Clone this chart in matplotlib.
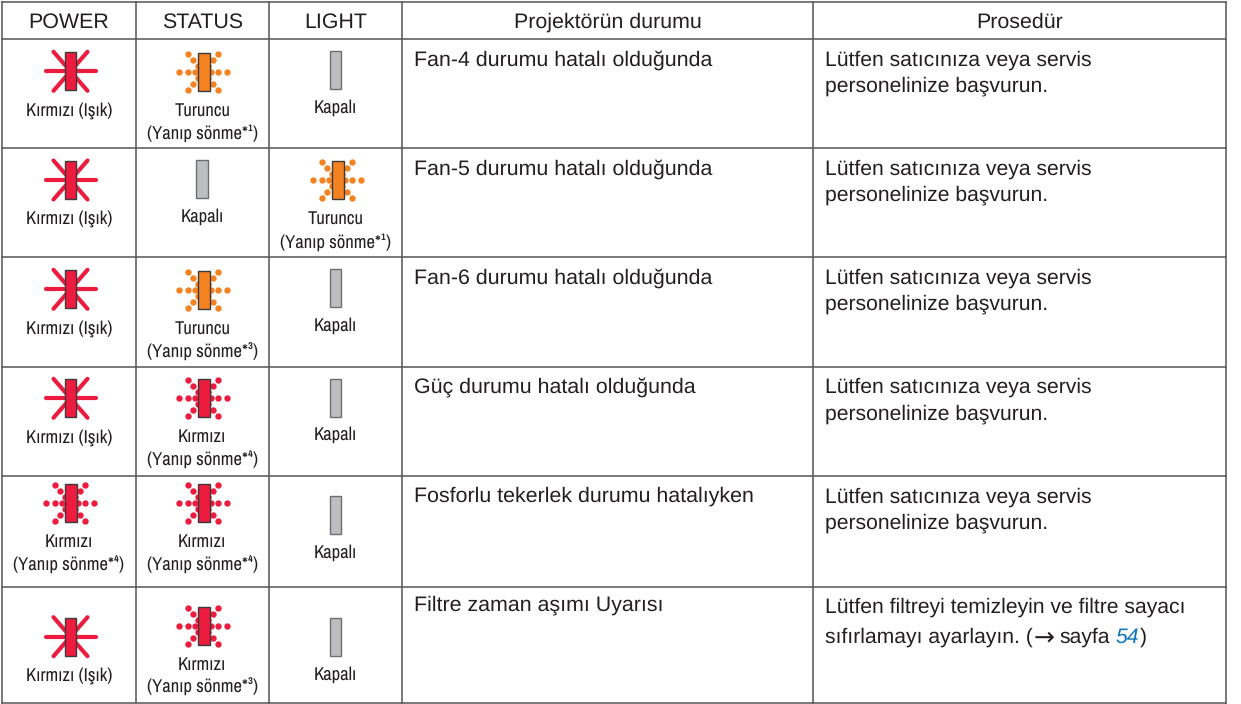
import matplotlib
matplotlib.use("Agg")
import matplotlib.pyplot as plt
from matplotlib.patches import Rectangle

plt.rcParams['font.family'] = ['Liberation Sans', 'DejaVu Sans']
plt.rcParams['text.hinting'] = 'no_hinting'
W, H = 1241, 704

COL_EDGES = [2.3, 135.7, 268.7, 402.3, 813, 1226]
ROW_EDGES = [2, 39, 148.3, 257.3, 366.7, 475.7, 587.3, 702.7]
HEADERS = ["POWER", "STATUS", "LIGHT", "Projektörün durumu", "Prosedür"]
POWER = [("solid", "red", "Kırmızı (Işık)"), ("solid", "red", "Kırmızı (Işık)"), ("solid", "red", "Kırmızı (Işık)"),
         ("solid", "red", "Kırmızı (Işık)"), ("blink", "red", "Kırmızı\n(Yanıp sönme*⁴)"), ("solid", "red", "Kırmızı (Işık)")]
OFF = ("off", "gray", "Kapalı")
STATUS = [("blink", "orange", "Turuncu\n(Yanıp sönme*¹)"), OFF, ("blink", "orange", "Turuncu\n(Yanıp sönme*³)"),
          ("blink", "red", "Kırmızı\n(Yanıp sönme*⁴)"), ("blink", "red", "Kırmızı\n(Yanıp sönme*⁴)"), ("blink", "red", "Kırmızı\n(Yanıp sönme*³)")]
LIGHT = [OFF, ("blink", "orange", "Turuncu\n(Yanıp sönme*¹)"), OFF, OFF, OFF, OFF]
CONDITION = ["Fan-4 durumu hatalı olduğunda", "Fan-5 durumu hatalı olduğunda", "Fan-6 durumu hatalı olduğunda",
             "Güç durumu hatalı olduğunda", "Fosforlu tekerlek durumu hatalıyken", "Filtre zaman aşımı Uyarısı"]
SERVICE = "Lütfen satıcınıza veya servis\npersonelinize başvurun."
PROCEDURE = [SERVICE] * 5 + ["Lütfen filtreyi temizleyin ve filtre sayacı\nsıfırlamayı ayarlayın. ("]
REF_ARROW = "→"
REF_WORD = "sayfa"
PAGE_REF = "54"
# vertical anchor of the lamp in each row
STAR_Y = [71.3, 180, 289.3, 398.3, 503, 636.7]
BLINK_Y = [71.5, 180, 290, 398, 503, 625.5]
OFF_Y = [70, 179.3, 288, 397.5, 515, 637]
COND_BASE = [66, 175, 284, 393, 502, 611]
PROC_BASE = [65.5, 174.5, 283.5, 393, 502.5, 613]
PROC_STEP = [26.5, 26.5, 26.5, 26.5, 26.5, 30]
COLORS = {"red": "#ED1C3F", "orange": "#F58220", "gray": "#BCBEC0"}
EDGE = "#3A3A3A"
TEXT = "#231F20"
LINE = "#555555"
BLUE = "#0F75BC"
BODY = 15.4
PROC_SIZE = 15.2
NARROW = ["Archivo Narrow", "Liberation Sans", "DejaVu Sans"]

fig = plt.figure(figsize=(W / 100, H / 100), dpi=100)
ax = fig.add_axes([0, 0, 1, 1])
ax.set_xlim(0, W); ax.set_ylim(H, 0); ax.axis("off")

for x in COL_EDGES:
    ax.plot([x, x], [ROW_EDGES[0], ROW_EDGES[-1]], color=LINE, lw=1.1, solid_capstyle="projecting")
for y in ROW_EDGES:
    ax.plot([COL_EDGES[0], COL_EDGES[-1]], [y, y], color=LINE, lw=1.1, solid_capstyle="projecting")

for i, h in enumerate(HEADERS):
    ax.text((COL_EDGES[i] + COL_EDGES[i + 1]) / 2, 27.5, h,
            ha="center", va="baseline", fontsize=BODY, color=TEXT)

STAR_RAYS = [(25, 0), (17, 19.5), (-17, 19.5)]
H_DOTS = [8, 15, 24]
D_DOTS = [(5, 6), (10, 12), (15, 18)]

def lamp(cx, cy, kind, color):
    c = COLORS[color]
    if kind == "solid":
        for dx, dy in STAR_RAYS:
            ax.plot([cx - dx, cx + dx], [cy - dy, cy + dy], color=c, lw=3.0, solid_capstyle="round", zorder=2)
    elif kind == "blink":
        xs, ys = [], []
        for d in H_DOTS:
            xs += [cx - 1.2 - d, cx - 1.2 + d]; ys += [cy, cy]
        for dx, dy in D_DOTS:
            for sx in (-1, 1):
                for sy in (-1, 1):
                    xs.append(cx - 1.2 + sx * dx); ys.append(cy + sy * dy)
        ax.scatter(xs, ys, s=21, color=c, lw=0, zorder=2)
    ax.add_patch(Rectangle((cx - 5.9, cy - 19), 11.8, 38, facecolor=c,
                           edgecolor=EDGE if kind != "off" else "#6D6E71", lw=1.0, zorder=3))

def label(cx, y0, text):
    for j, t in enumerate(text.split("\n")):
        ax.text(cx, y0 + j * 22.5, t, ha="center", va="center_baseline", fontsize=13.4, color=TEXT, family=NARROW)

for r in range(6):
    for c, col in enumerate((POWER, STATUS, LIGHT)):
        kind, color, txt = col[r]
        cx = (COL_EDGES[c] + COL_EDGES[c + 1]) / 2
        if kind == "solid":
            lamp(cx + 1.5, STAR_Y[r], kind, color); label(cx, STAR_Y[r] + 38, txt)
        elif kind == "blink":
            lamp(cx + 2.2, BLINK_Y[r], kind, color); label(cx, BLINK_Y[r] + 37.5, txt)
        else:
            lamp(cx, OFF_Y[r], kind, color); label(cx, OFF_Y[r] + 36, txt)
    ax.text(414.3, COND_BASE[r], CONDITION[r], ha="left", va="baseline", fontsize=BODY, color=TEXT)
    for j, t in enumerate(PROCEDURE[r].split("\n")):
        y = PROC_BASE[r] + j * PROC_STEP[r]
        tx = ax.text(825, y, t, ha="left", va="baseline", fontsize=PROC_SIZE, color=TEXT)
        if r == 5 and j == 1:
            fig.canvas.draw()
            x = tx.get_window_extent().x1 + 0.5
            a = ax.text(x, y + 1, REF_ARROW, ha="left", va="baseline", fontsize=18, color=TEXT, family="DejaVu Sans")
            x = a.get_window_extent().x1 + 5
            w = ax.text(x, y, REF_WORD, ha="left", va="baseline", fontsize=PROC_SIZE, color=TEXT)
            x = w.get_window_extent().x1 + 6
            n = ax.text(x, y, PAGE_REF, ha="left", va="baseline", fontsize=PROC_SIZE, color=BLUE, style="italic")
            ax.text(n.get_window_extent().x1 + 0.5, y, ")", ha="left", va="baseline", fontsize=PROC_SIZE, color=TEXT)

fig.savefig("out.png", dpi=100)
